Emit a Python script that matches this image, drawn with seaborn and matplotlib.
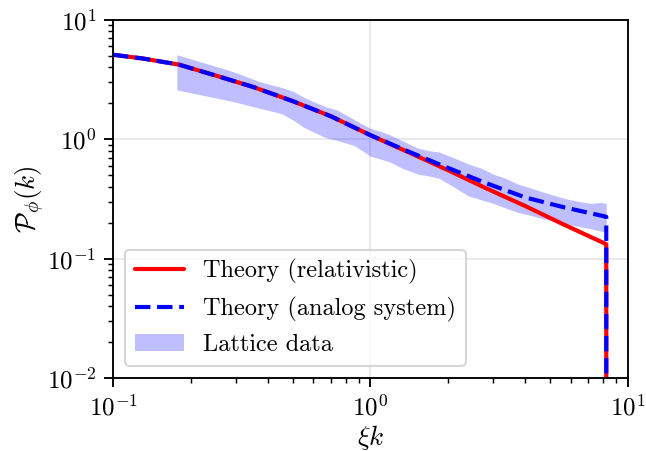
import os
os.environ.setdefault("MPLBACKEND", "Agg")
import matplotlib.pyplot as plt
import seaborn as sns
import pandas as pd

sns.set_theme(style="ticks")
plt.rcParams["font.family"] = "serif"
plt.rcParams["font.serif"] = ["cmr10"]
plt.rcParams["mathtext.fontset"] = "cm"
plt.rcParams["axes.formatter.use_mathtext"] = True
plt.rcParams["axes.unicode_minus"] = False
plt.rcParams["text.color"] = "black"
plt.rcParams["axes.labelcolor"] = "black"
plt.rcParams["xtick.color"] = "black"
plt.rcParams["ytick.color"] = "black"

# theory curves, last point = cutoff drop
k_theory = [0.10, 0.13, 0.18, 0.25, 0.35, 0.50, 0.70, 1.00, 1.40, 2.00, 2.80, 4.00, 5.60, 8.24, 8.24]
p_relat = [5.10, 4.75, 4.22, 3.42, 2.74, 2.08, 1.56, 1.08, 0.78, 0.55, 0.39, 0.275, 0.194, 0.132, 1e-4]
p_analog = [5.10, 4.75, 4.22, 3.42, 2.74, 2.08, 1.56, 1.08, 0.79, 0.575, 0.43, 0.325, 0.27, 0.224, 1e-4]

# lattice data band (upper / lower envelope)
k_lat = [0.177, 0.22, 0.292, 0.37, 0.45, 0.50, 0.55, 0.60, 0.67, 0.74, 0.87, 1.00, 1.10, 1.20, 1.33,
         1.53, 1.70, 1.85, 2.10, 2.40, 2.70, 3.00, 3.35, 3.75, 4.20, 4.70, 5.25, 5.85, 6.50, 7.20, 7.80, 8.24]
p_up = [5.09, 4.44, 3.69, 3.04, 2.72, 2.52, 2.25, 2.07, 1.87, 1.76, 1.45, 1.23, 1.16, 1.08, 0.97,
        0.84, 0.80, 0.78, 0.70, 0.62, 0.57, 0.51, 0.47, 0.42, 0.39, 0.36, 0.335, 0.314, 0.30, 0.29, 0.295, 0.29]
p_lo = [2.59, 2.35, 2.07, 1.82, 1.64, 1.45, 1.26, 1.15, 1.03, 0.98, 0.88, 0.72, 0.68, 0.64, 0.57,
        0.51, 0.49, 0.47, 0.40, 0.335, 0.31, 0.29, 0.265, 0.243, 0.23, 0.215, 0.205, 0.194, 0.185, 0.178, 0.17, 0.166]

df_th = pd.DataFrame({"k": k_theory, "rel": p_relat, "ana": p_analog})

fig, ax = plt.subplots(figsize=(646 / 150, 451 / 150), dpi=150)
fig.subplots_adjust(left=0.175, right=0.972, top=0.956, bottom=0.162)
ax.set_xscale("log")
ax.set_yscale("log")

ax.fill_between(k_lat, p_lo, p_up, color="blue", alpha=0.25, lw=0, label="Lattice data")
sns.lineplot(data=df_th, x="k", y="rel", color="red", lw=2, estimator=None, sort=False,
             label="Theory (relativistic)", ax=ax)
sns.lineplot(data=df_th, x="k", y="ana", color="blue", lw=2, linestyle="--", estimator=None,
             sort=False, label="Theory (analog system)", ax=ax)

ax.set_xlim(0.1, 10)
ax.set_ylim(1e-2, 10)
ax.set_xlabel(r"$\xi k$", fontsize=13, labelpad=1)
ax.set_ylabel(r"$\mathcal{P}_\phi(k)$", fontsize=13, labelpad=0)
ax.grid(True, which="major", color="#e6e6e6", lw=0.8)
ax.set_axisbelow(True)
for s in ax.spines.values():
    s.set_visible(True)
    s.set_color("black")
    s.set_linewidth(0.9)
ax.tick_params(which="major", length=4.5, width=0.9, labelsize=12)
ax.tick_params(which="minor", length=2.5, width=0.7)

h, l = ax.get_legend_handles_labels()
order = [l.index("Theory (relativistic)"), l.index("Theory (analog system)"), l.index("Lattice data")]
ax.legend([h[i] for i in order], [l[i] for i in order], loc="lower left", fontsize=11.7,
          frameon=True, framealpha=0.8, edgecolor="#cccccc", fancybox=True)

plt.savefig("out.png", dpi=150)
plt.close()
